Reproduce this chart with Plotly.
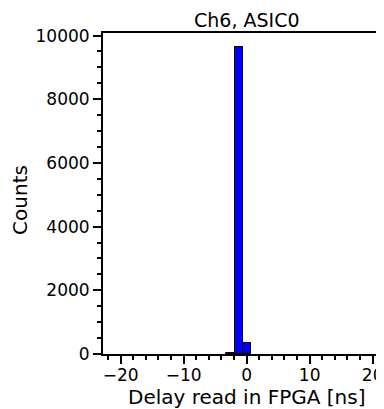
import plotly.graph_objects as go

bin_width = 50 / 39
bin_centers = [-2 * bin_width, -1 * bin_width, 0.0]
counts = [40, 9650, 355]

title_text = "Ch6, ASIC0"
x_label = "Delay read in FPGA [ns]"
y_label = "Counts"

# page has an 8px body margin; figure sized to fit the window exactly
W, H = 376, 401
ML, MT, MB, MR = 95, 25, 55, 0
plot_w = W - ML - MR
plot_h = H - MT - MB

fig = go.Figure()
fig.add_trace(go.Bar(
    x=bin_centers, y=counts, width=bin_width,
    marker=dict(color="#0000ff", line=dict(color="black", width=1)),
))

font = "DejaVu Sans, sans-serif"
fig.update_layout(
    width=W, height=H,
    margin=dict(l=ML, r=MR, t=MT, b=MB, autoexpand=False),
    plot_bgcolor="white", paper_bgcolor="white",
    showlegend=False,
    bargap=0,
    font=dict(family=font, color="black", size=17),
    annotations=[
        dict(text=title_text, x=0, xref="x", y=1, yref="paper",
             xanchor="center", yanchor="middle", yshift=13, showarrow=False,
             font=dict(size=19, family=font, color="black")),
        dict(text=x_label, x=0, xref="x", y=-43 / plot_h, yref="paper",
             xanchor="center", yanchor="middle", borderpad=0,
             showarrow=False, font=dict(size=20, family=font, color="black")),
        dict(text=y_label, x=-83 / plot_w, xref="paper", y=0.48, yref="paper",
             showarrow=False, textangle=-90, xanchor="center", yanchor="middle",
             font=dict(size=20, family=font, color="black")),
    ],
)

fig.update_xaxes(
    range=[-22.8, 21.8], showgrid=False, zeroline=False, automargin=False,
    showline=True, linecolor="black", linewidth=2, mirror=True,
    ticks="outside", ticklen=8, tickwidth=2, tickcolor="black",
    tick0=0, dtick=10, ticklabelstandoff=-3,
    minor=dict(ticks="outside", ticklen=4, tickwidth=2, tickcolor="black", dtick=2, tick0=0),
    tickfont=dict(size=17),
)
fig.update_yaxes(
    range=[0, 10080], showgrid=False, zeroline=False, automargin=False,
    showline=True, linecolor="black", linewidth=2, mirror=False,
    ticks="outside", ticklen=8, tickwidth=2, tickcolor="black",
    tick0=0, dtick=2000, tickformat="d",
    minor=dict(ticks="outside", ticklen=4, tickwidth=2, tickcolor="black", dtick=500, tick0=0),
    tickfont=dict(size=17),
)
fig.write_html("out.html")
